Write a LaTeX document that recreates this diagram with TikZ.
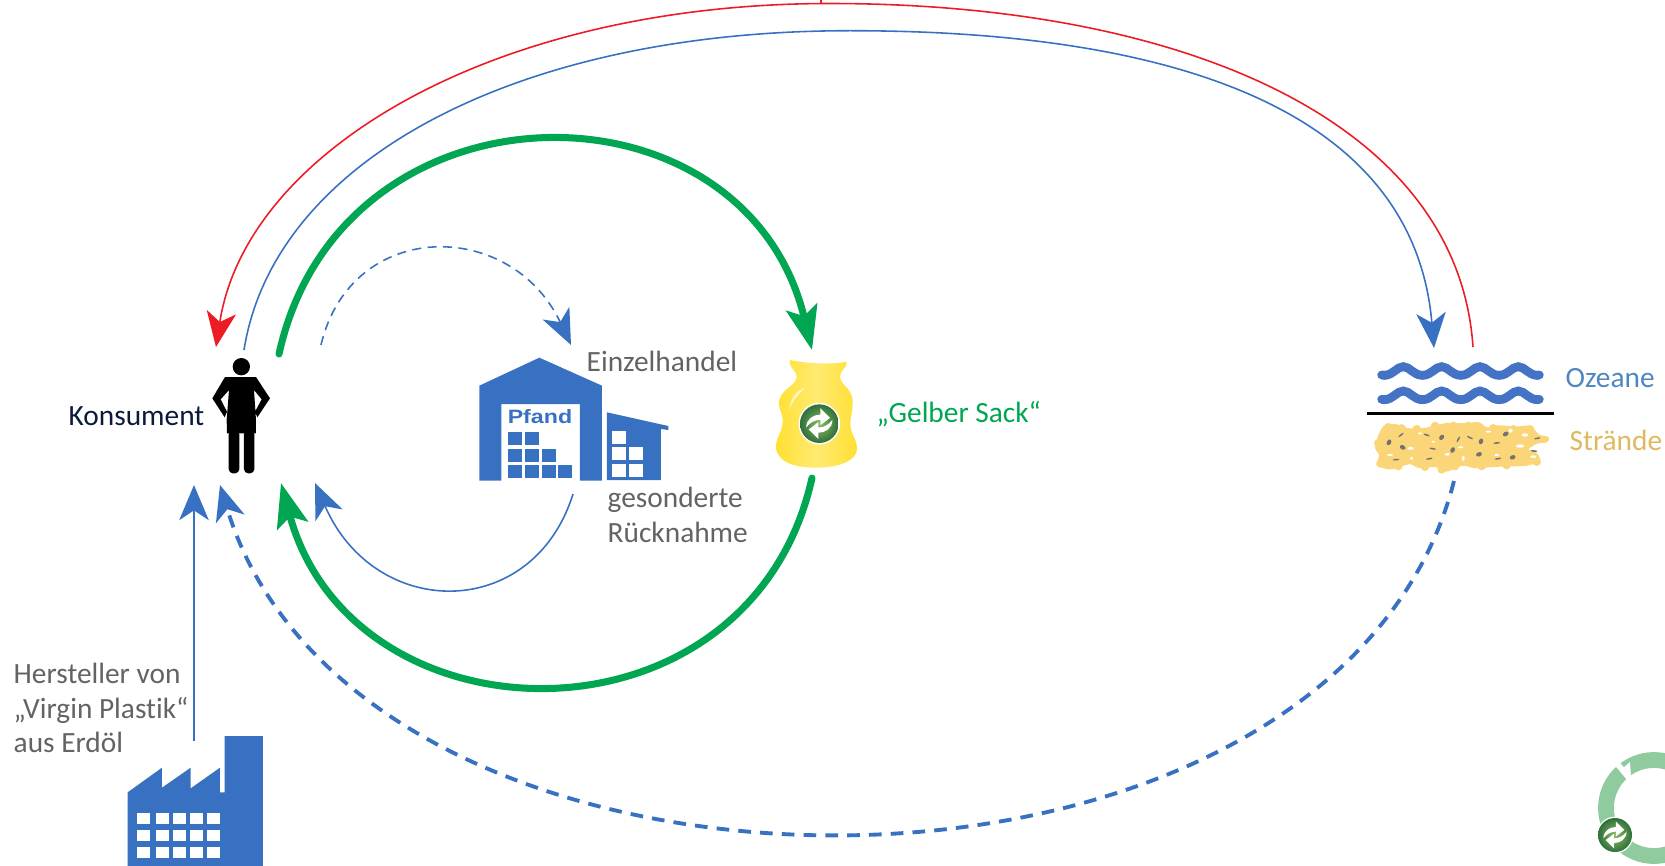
\documentclass[tikz,border=0pt]{standalone}
\usepackage{fontspec}
\setmainfont[Ligatures=CommonOff]{Carlito}
\newfontfamily\pfandfont{Liberation Sans}
\usetikzlibrary{arrows.meta}

\definecolor{plastblue}{HTML}{3871C1}
\definecolor{plastgreen}{HTML}{00A651}
\definecolor{plastred}{HTML}{ED1C24}
\definecolor{greytext}{HTML}{636363}
\definecolor{navytext}{HTML}{0B1A3A}
\definecolor{oceantext}{HTML}{4E87C0}
\definecolor{beachtext}{HTML}{E0B95F}
\definecolor{wavecol}{HTML}{4472C4}
\definecolor{sandcol}{HTML}{FBD679}
\definecolor{sackcol}{HTML}{FFE030}
\definecolor{ringcol}{HTML}{8FCB9F}
\definecolor{punktinner}{HTML}{8DBE62}
\definecolor{punktouter}{HTML}{2F6F3A}

\tikzstyle{label} = [inner sep=0pt, anchor=west, align=left, font=\fontsize{8.35}{9.9}\selectfont]
\tikzstyle{endpoint} = [coordinate]
\tikzstyle{thinarrow} = [draw, line width=0.45pt, -{Stealth[length=10pt, width=8.4pt, inset=2.8pt]}]
\tikzstyle{bluearrow} = [thinarrow, plastblue]
\tikzstyle{redarrow} = [thinarrow, plastred]
\tikzstyle{greenarrow} = [draw, plastgreen, line width=2pt, line cap=round, -{Stealth[length=12.5pt, width=9pt, inset=2.6pt]}]
\tikzstyle{dashthin} = [bluearrow, dash pattern=on 2.6pt off 1.8pt]
\tikzstyle{dashthick} = [bluearrow, line width=1.1pt, dash pattern=on 3.6pt off 2.6pt]
\tikzstyle{wave} = [draw, wavecol, line width=2.5pt, line cap=round]
\tikzset{gruenpunkt/.pic={
    \fill [white] (0,0) circle (1.08);
    \shade [inner color=punktinner, outer color=punktouter] (0,0) circle (1);
    \foreach \turn in {0,180} {
        \fill [white, rotate=\turn] (-.68,.2) .. controls (-.68,-.25) and (-.3,-.47) .. (.05,-.47)
            -- (.05,-.8) -- (.55,-.3) -- (.05,.08) -- (.05,-.2)
            .. controls (-.25,-.2) and (-.5,-.05) .. (-.68,.2) -- cycle;
    }
}}

\begin{document}
\begin{tikzpicture}[x=0.01cm, y=-0.01cm]
    \useasboundingbox (0,0) rectangle (1665,866);

    % Labels
    \node [label, navytext] (konsument) at (68,416) {Konsument};
    \node [label, greytext] (einzelhandel) at (586,361) {Einzelhandel};
    \node [label, greytext] (ruecknahme) at (607,515) {gesonderte\\Rücknahme};
    \node [label, plastgreen] (gelbersack) at (876,414) {„Gelber Sack“};
    \node [label, oceantext] (ozeane) at (1565,378) {Ozeane};
    \node [label, beachtext] (straende) at (1569,440) {Strände};
    \node [label, greytext] (hersteller) at (13,708) {Hersteller von\\„Virgin Plastik“\\aus Erdöl};

    % Person
    \begin{scope}[shift={(180,330)}, scale=1/3]
        \fill (184,110) circle (26);
        \fill (135,141) -- (228,141) -- (270,205) -- (232,262) -- (225,245) -- (245,208) -- (222,180)
            -- (228,270) -- (228,310) -- (141,310) -- (140,270) -- (147,180)
            -- (122,208) -- (141,245) -- (134,262) -- (97,205) -- cycle;
        \fill [rounded corners=1.2pt] (146,300) rectangle (178,430);
        \fill [rounded corners=1.2pt] (192,300) rectangle (223,430);
    \end{scope}

    % Warehouse
    \begin{scope}[shift={(180,330)}, scale=1/3]
        \fill [plastblue] (898,167) -- (1078,83) -- (1266,167) -- (1266,452) -- (1200,452) -- (1200,222)
            -- (964,222) -- (964,452) -- (898,452) -- cycle;
        \foreach \bx/\by in {984/306,1035/306,984/357,1035/357,1086/357,984/405,1035/405,1086/405,1134/405}
            \fill [plastblue] (\bx,\by) rectangle ++(42,39);
        \fill [plastblue] (1281,247) -- (1465,288) -- (1465,300) -- (1443,297) -- (1443,450) -- (1281,450) -- cycle;
        \foreach \bx/\by in {1296/303,1296/351,1347/351,1296/402,1347/402}
            \fill [white] (\bx,\by) rectangle ++(42,39);
        \node [inner sep=0pt, plastblue, xscale=1.2, font=\pfandfont\bfseries\fontsize{5.5}{6}\selectfont] (pfand) at (1080,260) {Pfand};
    \end{scope}

    % Yellow sack
    \begin{scope}[shift={(740,320)}, scale=1/3]
        \shade [left color=sackcol, right color=sackcol, middle color=sackcol!68!white]
            (150,120) .. controls (200,130) and (270,135) .. (320,125) .. controls (325,140) and (300,150) .. (300,170)
            .. controls (300,195) and (340,205) .. (338,250) .. controls (337,290) and (325,300) .. (335,335)
            .. controls (345,360) and (355,375) .. (350,395) .. controls (340,430) and (280,443) .. (230,443)
            .. controls (170,443) and (115,430) .. (108,385) .. controls (105,355) and (130,335) .. (128,300)
            .. controls (125,270) and (110,260) .. (120,235) .. controls (130,205) and (170,195) .. (170,170)
            .. controls (170,150) and (145,145) .. (150,120) -- cycle;
        \fill [white, opacity=.6] (195,203) .. controls (170,210) and (150,235) .. (147,272)
            .. controls (155,245) and (175,225) .. (195,203) -- cycle;
        \pic [scale=19.3] at (238,311) {gruenpunkt};
    \end{scope}

    % Ocean and beach
    \begin{scope}[shift={(1340,320)}, scale=1/3]
        \foreach \wy in {0,73} {
            \foreach \cx in {190,305,420,535}
                \draw [wave] ({\cx-58},{166+\wy}) .. controls ({\cx-30},{166+\wy}) and ({\cx-20},{140+\wy})
                    .. (\cx,{140+\wy}) .. controls ({\cx+20},{140+\wy}) and ({\cx+30},{166+\wy}) .. ({\cx+58},{166+\wy});
            \draw [wave] (125,{165+\wy}) -- (135,{166+\wy});
            \draw [wave] (590,{166+\wy}) -- (598,{165+\wy});
        }
        \draw [black, line width=0.7pt] (82,280) -- (643,280);
        \fill [sandcol, rounded corners=1pt] (130,315) -- (165,310) -- (200,325) -- (250,325) -- (320,308) -- (370,310)
            -- (420,305) -- (440,325) -- (470,315) -- (530,320) -- (575,315) -- (595,345) -- (630,350) -- (625,368)
            -- (590,370) -- (560,390) -- (590,395) -- (605,425) -- (560,438) -- (480,440) -- (400,445) -- (370,435)
            -- (315,458) -- (290,440) -- (230,445) -- (215,430) -- (150,450) -- (105,438) -- (120,405) -- (102,385)
            -- (115,345) -- cycle;
        % Rough edge of the sand
        \foreach \sx/\sy in {145/322,185/325,230/328,285/318,340/318,385/318,460/325,520/328,570/328,
            125/430,175/438,255/440,305/448,345/438,425/438,500/435,590/425,115/370}
            \fill [sandcol] (\sx,\sy) circle (13);
        \foreach \sx/\sy/\sa/\sb in {212/385/9/4,322/403/7/4,362/382/8/3,540/378/12/5,512/332/6/6,555/345/10/5,
            445/335/8/3,240/340/6/3,150/405/9/3,470/405/7/3,215/415/5/5,370/415/4/8,580/410/9/4,280/365/5/3}
            \fill [white] (\sx,\sy) ellipse ({\sa} and {\sb});
        \foreach \gx/\gy/\gr in {147/367/60,188/382/-30,305/352/50,338/390/60,423/364/70,417/403/20,518/412/20,497/342/30}
            \fill [black!55, rotate around={\gr:(\gx,\gy)}] (\gx,\gy) ellipse (9 and 6.5);
        \foreach \gx/\gy/\gr in {183/345/40,260/345/-20,278/386/-10,268/416/10,168/419/5,355/358/60,390/353/-25,470/369/5,474/416/10,592/355/10,582/393/-5}
            \fill [black!55, rotate around={\gr:(\gx,\gy)}] (\gx,\gy) ellipse (10 and 2.5);
    \end{scope}

    % Factory
    \begin{scope}[shift={(0,640)}, scale=1/3]
        \fill [plastblue] (383,457) -- (486,383) -- (486,443) -- (572,383) -- (572,445) -- (660,383) -- (660,457)
            -- (674,457) -- (674,288) -- (789,288) -- (789,678) -- (383,678) -- cycle;
        \foreach \wx/\ww in {411/39,468/39,519/39,570/39,621/39}
            \foreach \wy in {519,570,621}
                \fill [white] (\wx,\wy) rectangle ++(\ww,33);
    \end{scope}

    % Recycling ring
    \draw [ringcol, line width=4.5pt] (1654,808) circle (48);
    \draw [white, line width=1.6pt] (1654-38*0.64,808-38*0.77) -- (1654-62*0.64,808-62*0.77);
    \fill [white] (1622,769) -- (1631,776) -- (1630,762) -- cycle;
    \pic [scale=17] at (1615,835) {gruenpunkt};

    % Connector ends
    \node [endpoint] (redstart) at (1473,347) {};
    \node [endpoint] (redtop) at (830,3.5) {};
    \node [endpoint] (redtick) at (821,0) {};
    \node [endpoint] (redend) at (216,347) {};
    \node [endpoint] (bluestart) at (244,350) {};
    \node [endpoint] (bluetop) at (850,30.7) {};
    \node [endpoint] (blueend) at (1434,348) {};
    \node [endpoint] (greenstart) at (279,354) {};
    \node [endpoint] (greensack) at (812,350) {};
    \node [endpoint] (sackstart) at (812,478) {};
    \node [endpoint] (greenend) at (281,483) {};
    \node [endpoint] (pfandstart) at (321,345) {};
    \node [endpoint] (pfandend) at (571,345) {};
    \node [endpoint] (backstart) at (573,494) {};
    \node [endpoint] (backend) at (315,483) {};
    \node [endpoint] (beachstart) at (1454,481) {};
    \node [endpoint] (beachend) at (220,485) {};
    \node [endpoint] (factorystart) at (194,741) {};
    \node [endpoint] (factoryend) at (194,485) {};

    % Arrows
    \draw [redarrow] (redstart) .. controls +(-15,-225) and +(354,0) .. (redtop) .. controls +(-338,0) and +(30,-195) .. (redend);
    \draw [plastred, line width=0.45pt] (redtick) -- +(0,4);
    \draw [bluearrow] (bluestart) .. controls +(30,-190) and +(-333,0) .. (bluetop) .. controls +(330,0) and +(-20,-235) .. (blueend);
    \draw [greenarrow] (greenstart) .. controls +(62,-282) and +(-67,-279) .. (greensack);
    \draw [greenarrow] (sackstart) .. controls +(-62,278) and +(72,266) .. (greenend);
    \draw [dashthin] (pfandstart) .. controls +(30,-127) and +(-60,-127) .. (pfandend);
    \draw [bluearrow] (backstart) .. controls +(-40,128) and +(60,138) .. (backend);
    \draw [dashthick] (beachstart) .. controls +(-120,470) and +(140,462) .. (beachend);
    \draw [bluearrow] (factorystart) -- (factoryend);
\end{tikzpicture}
\end{document}
